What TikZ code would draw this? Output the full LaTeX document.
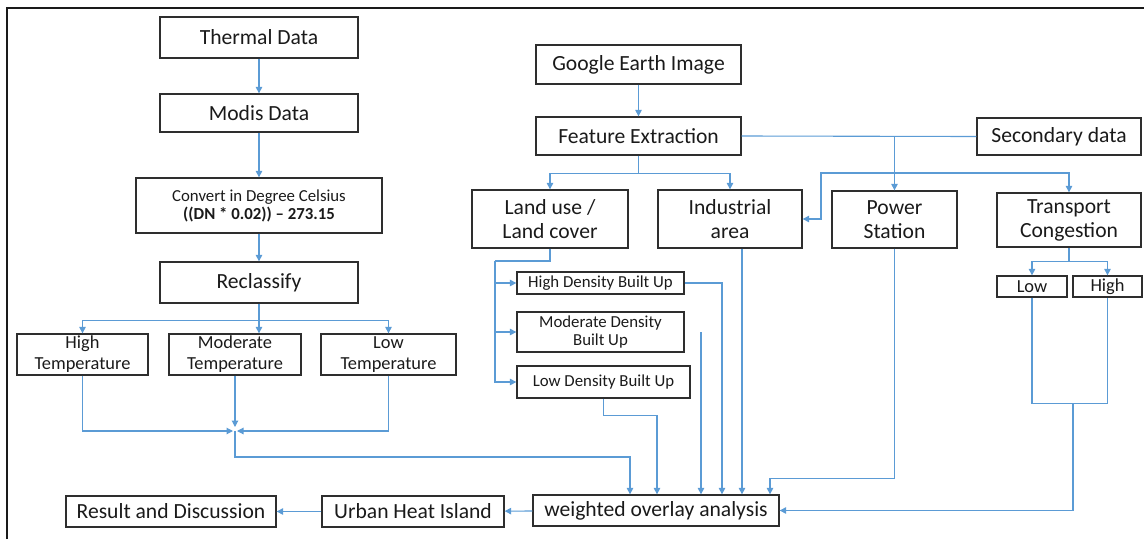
\documentclass[tikz,border=0pt]{standalone}
\usepackage{fontspec}
\setmainfont{Carlito}
\usetikzlibrary{arrows.meta,calc}
\definecolor{flow}{HTML}{5B9BD5}
\definecolor{edge}{HTML}{2E2E2E}
\definecolor{ink}{HTML}{1A1A1A}
\tikzset{
  box/.style={draw=edge, line width=1.3pt, inner sep=0pt, align=center, text=ink},
  big/.style={font=\fontsize{21.6}{24}\selectfont},
  mid/.style={font=\fontsize{18.4}{21}\selectfont},
  small/.style={font=\fontsize{16.8}{18}\selectfont},
  link/.style={draw=flow, line width=1.1pt},
  arrow/.style={link, -{Triangle[length=6.5pt,width=6.5pt]}},
}
\begin{document}
\begin{tikzpicture}[x=1pt, y=-1pt]
\useasboundingbox (0,0) rectangle (1144,539);
% frame
\draw[line width=2.6pt, draw=ink] (7,539) -- (7,8) -- (1144,8);

% thermal branch
\node[box,big,minimum width=198,minimum height=41] (thermal) at (259,37.5) {Thermal Data};
\node[box,big,minimum width=198,minimum height=38] (modis) at (259,113) {Modis Data};
\node[box,small,minimum width=246,minimum height=55] (convert) at (259,205.5) {Convert in Degree Celsius\\\textbf{((DN * 0.02)) – 273.15}};
\node[box,big,minimum width=198,minimum height=41] (reclass) at (259,282.5) {Reclassify};
\node[box,mid,minimum width=131,minimum height=41] (hightemp) at (82.5,354.5) {High\\Temperature};
\node[box,mid,minimum width=132,minimum height=41] (modtemp) at (235,354.5) {Moderate\\Temperature};
\node[box,mid,minimum width=135,minimum height=41] (lowtemp) at (388.5,354.5) {Low\\Temperature};

% outputs
\node[box,big,minimum width=210,minimum height=31] (result) at (171,511.5) {Result and Discussion};
\node[box,big,minimum width=182,minimum height=31] (uhi) at (413,511.5) {Urban Heat Island};
\node[box,big,minimum width=246,minimum height=31] (wol) at (656,510.5) {weighted overlay analysis};

% image branch
\node[box,big,minimum width=205,minimum height=39] (google) at (638.5,64.5) {Google Earth Image};
\node[box,big,minimum width=205,minimum height=38] (feature) at (638.5,136) {Feature Extraction};
\node[box,big,minimum width=156,minimum height=58] (landuse) at (550,219) {Land use /\\Land cover};
\node[box,big,minimum width=144,minimum height=58] (industrial) at (730,219) {Industrial\\area};
\node[box,small,minimum width=167,minimum height=22] (hdb) at (600.5,283) {High Density Built Up};
\node[box,small,minimum width=167,minimum height=40] (mdb) at (600.5,332) {Moderate Density\\Built Up};
\node[box,small,minimum width=173,minimum height=32] (ldb) at (603.5,382) {Low Density Built Up};

% secondary branch
\node[box,big,minimum width=164,minimum height=37] (secondary) at (1059,136.5) {Secondary data};
\node[box,big,minimum width=125,minimum height=57] (power) at (894.5,219.5) {Power\\Station};
\node[box,big,minimum width=144,minimum height=54] (transport) at (1069,220) {Transport\\Congestion};
\node[box,mid,minimum width=70,minimum height=21] (low) at (1032,286.5) {Low};
\node[box,mid,minimum width=69,minimum height=21] (high) at (1107.5,286.5) {High};

% thermal flow
\draw[arrow] (thermal) -- (modis);
\draw[arrow] (modis) -- (convert);
\draw[arrow] (convert) -- (reclass);
\draw[arrow] (reclass.south) -- (reclass.south |- modtemp.north);
\coordinate (rb) at ($(reclass.south)+(0,16.5)$);
\draw[arrow] (rb) -| (hightemp.north);
\draw[arrow] (rb) -| (lowtemp.north);
\coordinate (j) at (235,431);
\draw[arrow] (modtemp.south) -- ($(j)+(0,-4)$);
\draw[arrow] (hightemp.south) |- ($(j)+(-2,0)$);
\draw[arrow] (lowtemp.south) |- ($(j)+(2,0)$);
\draw[arrow] (j) -- (235,457) -| ($(wol.north)+(-26,0)$);

% image flow
\draw[arrow] (google) -- (feature);
\coordinate (fb) at ($(feature.south)+(0,18)$);
\draw[link] (feature.south) -- (fb);
\draw[arrow] (fb) -| (landuse.north);
\draw[arrow] (fb) -| (industrial.north);
\coordinate (lu) at (495,261);
\draw[link] (landuse.south) |- (lu);
\draw[arrow] (lu) |- (hdb.west);
\draw[arrow] (lu) |- (ldb.west);
\draw[arrow] (lu |- mdb.west) -- (mdb.west);
\draw[arrow] (hdb.east) -| ($(wol.north)+(66,0)$);
\coordinate (mdbout) at (701,332);
\draw[arrow] (mdbout) -- ($(wol.north)+(45,0)$);
\draw[arrow] (ldb.south) -- ++(0,17) -| ($(wol.north)+(1,0)$);
\draw[arrow] ($(industrial.south)+(12,0)$) -- ($(wol.north)+(86,0)$);

% secondary flow
\draw[link] (secondary.west) -- (feature.east);
\draw[arrow] (power.north |- secondary.west) -- (power.north);
\coordinate (s2) at (894.5,173);
\draw[arrow] (s2) -| (transport.north);
\draw[arrow] (s2) -- (821,173) |- (industrial.east);
\draw[arrow] (power.south) |- ($(wol.north)+(114,-16)$) -- ($(wol.north)+(114,0)$);
\coordinate (tb) at ($(transport.south)+(0,14)$);
\draw[link] (transport.south) -- (tb);
\draw[arrow] (tb) -| (low.north);
\draw[arrow] (tb) -| (high.north);
\draw[link] (low.south) -- ++(0,106) -| (high.south);
\coordinate (lh) at (1073,403);
\draw[arrow] (lh) |- (wol.east);

% results
\draw[arrow] (wol) -- (uhi);
\draw[arrow] (uhi) -- (result);
\end{tikzpicture}
\end{document}
